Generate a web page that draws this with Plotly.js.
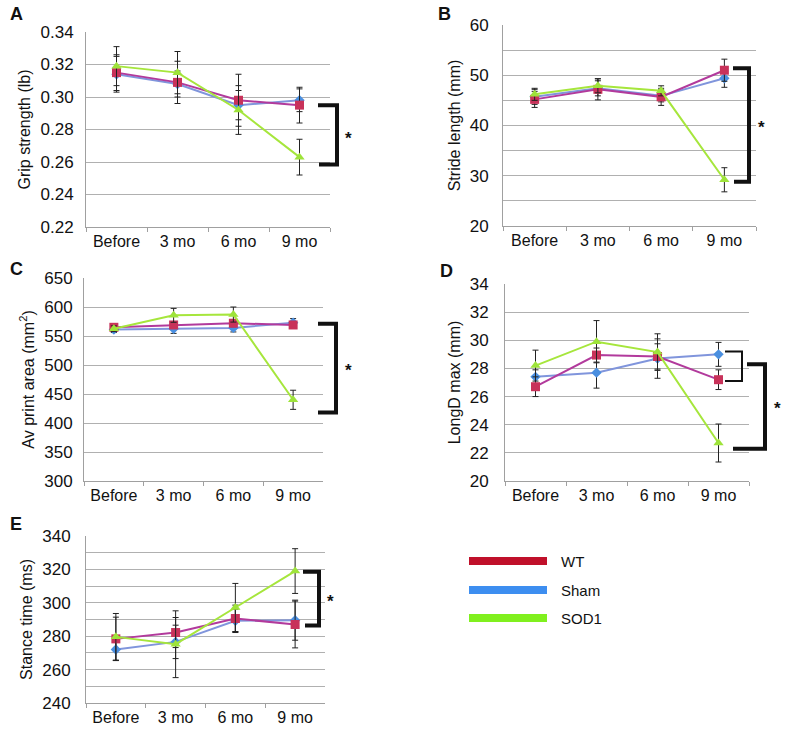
<!DOCTYPE html>
<html>
<head>
<meta charset="utf-8">
<script src="https://cdn.plot.ly/plotly-3.0.1.min.js"></script>
<style>
  html, body { margin: 0; padding: 0; background: #fff; }
  #chart { width: 786px; height: 730px; }
</style>
</head>
<body>
<div id="chart"></div>
<script>
const W = 786, H = 730;

const timepoints = ['Before', '3 mo', '6 mo', '9 mo'];
const seriesNames = ['WT', 'Sham', 'SOD1'];

// A - grip strength (lb)
const gripWT = [0.315, 0.309, 0.298, 0.295];
const gripWTErr = [0.011, 0.013, 0.016, 0.011];
const gripSham = [0.314, 0.308, 0.295, 0.298];
const gripShamErr = [0.011, 0.008, 0.009, 0.007];
const gripSOD1 = [0.319, 0.315, 0.292, 0.263];
const gripSOD1Err = [0.012, 0.013, 0.015, 0.011];

// B - stride length (mm)
const strideWT = [45.2, 47.2, 45.7, 51.0];
const strideWTErr = [1.6, 2.1, 1.7, 2.2];
const strideSham = [45.7, 47.4, 45.9, 49.4];
const strideShamErr = [1.5, 1.5, 1.2, 1.8];
const strideSOD1 = [46.2, 47.9, 46.9, 29.2];
const strideSOD1Err = [1.2, 1.4, 1.0, 2.4];

// C - av print area (mm2)
const printWT = [565, 569, 572, 569];
const printWTErr = [5, 6, 6, 5];
const printSham = [561, 562.5, 564, 573];
const printShamErr = [5, 8, 7, 7];
const printSOD1 = [562.5, 585.6, 587, 440];
const printSOD1Err = [5, 12, 13, 16.5];

// D - longD max (mm)
const longWT = [26.7, 28.95, 28.85, 27.2];
const longWTErr = [0.7, 0.5, 0.9, 0.7];
const longSham = [27.4, 27.7, 28.7, 29.0];
const longShamErr = [0.5, 1.1, 1.4, 0.85];
const longSOD1 = [28.2, 29.9, 29.16, 22.7];
const longSOD1Err = [1.1, 1.5, 1.3, 1.35];

// E - stance time (ms)
const stanceWT = [278.4, 282.2, 290.6, 287];
const stanceWTErr = [13, 9, 8, 14];
const stanceSham = [272, 276.6, 289.2, 289.6];
const stanceShamErr = [6.4, 10, 7, 12];
const stanceSOD1 = [279.6, 275.2, 297.2, 319];
const stanceSOD1Err = [14, 20, 14.4, 13.4];

// significance brackets [top, bottom] in data units
const bracketA = [0.295, 0.2585];
const bracketB = [51.4, 28.8];
const bracketC = [571, 418];
const bracketDsmall = [29.2, 27.1];
const bracketDbig = [28.3, 22.3];
const bracketE = [318.6, 286.4];

const lineColors = { WT: '#b23a9c', Sham: '#8095dc', SOD1: '#a6e63c' };
const markerColors = { WT: '#c8325a', Sham: '#4a8fe0', SOD1: '#9ee33a' };
const legendColors = { WT: '#c0102a', Sham: '#3d8ef0', SOD1: '#80f01e' };
const symbols = { WT: 'square', Sham: 'diamond', SOD1: 'triangle-up' };
const sizes = { WT: 9, Sham: 8, SOD1: 9 };

const font = 'Liberation Sans, Arial, sans-serif';
const gridColor = '#b0b0b0';
const axisColor = '#a0a0a0';

function px(x) { return x / W; }
function py(y) { return 1 - y / H; }

function makeTrace(name, y, err, axisIdx) {
  const sfx = axisIdx === 1 ? '' : String(axisIdx);
  return {
    type: 'scatter',
    mode: 'lines+markers',
    name: name,
    x: timepoints,
    y: y,
    xaxis: 'x' + sfx,
    yaxis: 'y' + sfx,
    cliponaxis: false,
    line: { color: lineColors[name], width: 2 },
    marker: { color: markerColors[name], symbol: symbols[name], size: sizes[name] },
    error_y: { type: 'data', array: err, visible: true, color: '#222', thickness: 1, width: 3 },
    showlegend: false
  };
}

const panels = [
  { idx: 1, wt: gripWT, wtE: gripWTErr, sh: gripSham, shE: gripShamErr, sod: gripSOD1, sodE: gripSOD1Err },
  { idx: 2, wt: strideWT, wtE: strideWTErr, sh: strideSham, shE: strideShamErr, sod: strideSOD1, sodE: strideSOD1Err },
  { idx: 3, wt: printWT, wtE: printWTErr, sh: printSham, shE: printShamErr, sod: printSOD1, sodE: printSOD1Err },
  { idx: 4, wt: longWT, wtE: longWTErr, sh: longSham, shE: longShamErr, sod: longSOD1, sodE: longSOD1Err },
  { idx: 5, wt: stanceWT, wtE: stanceWTErr, sh: stanceSham, shE: stanceShamErr, sod: stanceSOD1, sodE: stanceSOD1Err }
];

const data = [];
panels.forEach(p => {
  data.push(makeTrace('Sham', p.sh, p.shE, p.idx));
  data.push(makeTrace('WT', p.wt, p.wtE, p.idx));
  data.push(makeTrace('SOD1', p.sod, p.sodE, p.idx));
});

function xAxis(left, right, yId) {
  return {
    domain: [px(left), px(right)],
    anchor: yId,
    type: 'category',
    range: [-0.5, 3.5],
    showgrid: false,
    zeroline: false,
    showline: true,
    linecolor: axisColor,
    linewidth: 1,
    ticks: 'outside',
    tickson: 'boundaries',
    ticklen: 4,
    tickcolor: axisColor,
    tickfont: { family: font, size: 16, color: '#111' },
    fixedrange: true
  };
}

function yAxis(top, bottom, xId, range, dtick, title, standoff, extra) {
  return Object.assign({
    domain: [py(bottom), py(top)],
    anchor: xId,
    range: range,
    dtick: dtick,
    tick0: range[0],
    showgrid: true,
    gridcolor: gridColor,
    gridwidth: 1,
    zeroline: false,
    showline: true,
    linecolor: axisColor,
    ticks: '',
    ticklabelstandoff: standoff,
    tickfont: { family: font, size: 17, color: '#111' },
    title: { text: title, font: { family: font, size: 16, color: '#111' }, standoff: 5 },
    fixedrange: true
  }, extra || {});
}

const layout = {
  width: W,
  height: H,
  margin: { l: 0, r: 0, t: 0, b: 0 },
  paper_bgcolor: '#fff',
  plot_bgcolor: '#fff',
  showlegend: false,
  font: { family: font, color: '#111' },
  xaxis: xAxis(86, 330, 'y'),
  yaxis: yAxis(32, 227, 'x', [0.22, 0.34], 0.02, 'Grip strength (lb)', 8, { tickformat: '.2f' }),
  xaxis2: xAxis(503, 756, 'y2'),
  yaxis2: yAxis(25, 226, 'x2', [20, 60], 10, 'Stride length (mm)', 10,
    { minor: { dtick: 5, showgrid: true, gridcolor: gridColor, gridwidth: 1 } }),
  xaxis3: xAxis(84, 323, 'y3'),
  yaxis3: yAxis(278, 481, 'x3', [300, 650], 50, 'Av print area (mm<sup>2</sup>)', 7),
  xaxis4: xAxis(505, 749, 'y4'),
  yaxis4: yAxis(284, 481, 'x4', [20, 34], 2, 'LongD max (mm)', 12),
  xaxis5: xAxis(86, 325, 'y5'),
  yaxis5: yAxis(536, 703, 'x5', [240, 340], 20, 'Stance time (ms)', 11,
    { minor: { dtick: 10, showgrid: true, gridcolor: gridColor, gridwidth: 1 } }),
  shapes: [],
  annotations: []
};

function bracket(yref, vals, xTop, xBottom, xVert, width) {
  layout.shapes.push({
    type: 'path',
    xref: 'paper',
    yref: yref,
    path: 'M' + px(xTop) + ',' + vals[0] + ' H' + px(xVert) + ' V' + vals[1] + ' H' + px(xBottom),
    line: { color: '#111', width: width }
  });
}
bracket('y', bracketA, 318, 319, 337, 4);
bracket('y2', bracketB, 733, 734, 749, 4);
bracket('y3', bracketC, 318, 318, 336, 4);
bracket('y4', bracketDsmall, 725, 725, 742, 2);
bracket('y4', bracketDbig, 747, 733, 765, 4);
bracket('y5', bracketE, 303, 305, 319, 4);

function star(x, y) {
  layout.annotations.push({
    xref: 'paper', yref: 'paper', x: px(x), y: py(y),
    text: '<b>*</b>', showarrow: false,
    font: { family: font, size: 17, color: '#111' },
    xanchor: 'center', yanchor: 'middle'
  });
}
star(348, 138);
star(761, 127);
star(348, 370);
star(777, 408);
star(330, 601);

function letter(t, x, y) {
  layout.annotations.push({
    xref: 'paper', yref: 'paper', x: px(x), y: py(y),
    text: '<b>' + t + '</b>', showarrow: false,
    font: { family: font, size: 18, color: '#111' },
    xanchor: 'left', yanchor: 'middle'
  });
}
letter('A', 8, 14);
letter('B', 436, 14);
letter('C', 8, 269);
letter('D', 438, 271);
letter('E', 8, 524);

// legend drawn manually: long colored bars
const legendY = [561, 590, 618];
seriesNames.forEach((name, i) => {
  layout.shapes.push({
    type: 'line', xref: 'paper', yref: 'paper',
    x0: px(469), x1: px(547), y0: py(legendY[i]), y1: py(legendY[i]),
    line: { color: legendColors[name], width: 8 }
  });
  layout.annotations.push({
    xref: 'paper', yref: 'paper', x: px(559), y: py(legendY[i]),
    text: name, showarrow: false,
    font: { family: font, size: 15, color: '#111' },
    xanchor: 'left', yanchor: 'middle'
  });
});

Plotly.newPlot('chart', data, layout, { displayModeBar: false, staticPlot: true });
</script>
</body>
</html>
